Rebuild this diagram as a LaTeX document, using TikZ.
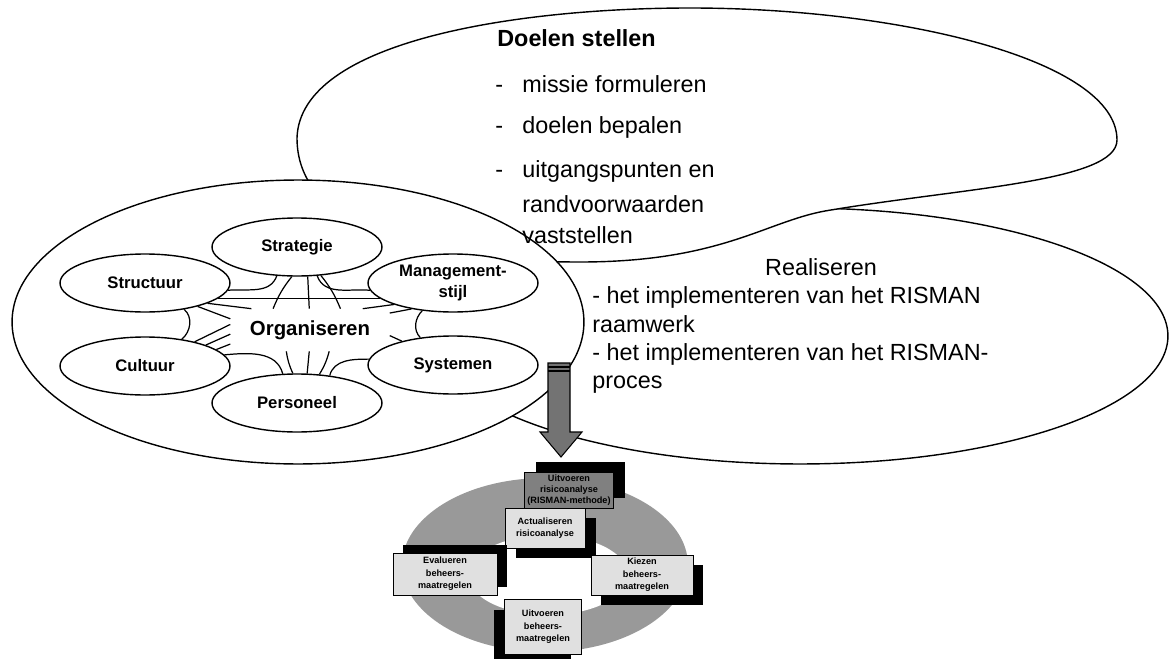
\documentclass[tikz,border=0pt]{standalone}
\usepackage{fontspec}
\setmainfont{Liberation Sans}
\usetikzlibrary{shapes.geometric,shadows,positioning}

\begin{document}
\begin{tikzpicture}
        [x=0.02cm, y=-0.02cm,
        bigell/.style={ellipse, draw, fill=white, line width=0.8pt, inner sep=0pt},
        smallell/.style={ellipse, draw, fill=white, line width=0.8pt, inner sep=0pt,
            minimum width=3.4cm, minimum height=1.16cm, align=center,
            font=\fontsize{9.5}{12.5}\selectfont\bfseries},
        txt/.style={anchor=base west, inner sep=0pt, font=\fontsize{13.3}{16}\selectfont},
        link/.style={draw, line width=0.7pt},
        stap/.style={rectangle, draw, line width=0.5pt, fill=black!12, inner sep=0pt,
            align=center, font=\fontsize{5.2}{7.2}\selectfont\bfseries},
        schaduw/.style n args={2}{drop shadow={shadow xshift=#1, shadow yshift=#2,
            fill=black, opacity=1}}
        ]
        \useasboundingbox (0,0) rectangle (1170,659);

        \node [bigell, minimum width=14.72cm, minimum height=5.12cm] (real) at (800,336) {};
        \draw [fill=white, line width=0.8pt] (297,138) .. controls (300,40) and (520,8) .. (690,8)
            .. controls (900,8) and (1117,60) .. (1117,140)
            .. controls (1117,182) and (960,188) .. (825,211)
            .. controls (765,222) and (720,262) .. (580,262)
            .. controls (400,262) and (297,220) .. (297,138) -- cycle;
        \node [bigell, minimum width=11.44cm, minimum height=5.68cm] (orgell) at (298,322) {};

        \node [txt, font=\fontsize{13.3}{16}\selectfont\bfseries] (dtitel) at (497,47) {Doelen stellen};
        \node [txt] (dash1) at (495,92) {-};
        \node [txt] (d1) at (522,92) {missie formuleren};
        \node [txt] (dash2) at (495,133) {-};
        \node [txt] (d2) at (522,133) {doelen bepalen};
        \node [txt] (dash3) at (495,177) {-};
        \node [txt] (d3) at (522,177) {uitgangspunten en};
        \node [txt] (d4) at (522,212) {randvoorwaarden};
        \node [txt] (d5) at (522,243) {vaststellen};

        \node [txt, anchor=base] (rtitel) at (821,275) {Realiseren};
        \node [txt] (r1) at (592,303) {- het implementeren van het RISMAN};
        \node [txt] (r2) at (592,332) {raamwerk};
        \node [txt] (r3) at (592,360) {- het implementeren van het RISMAN-};
        \node [txt] (r4) at (592,388) {proces};

        \node [smallell] (strat) at (297,247) {Strategie};
        \node [smallell] (struc) at (145,283) {Structuur};
        \node [smallell] (mgmt) at (453,283) {Management-\\stijl};
        \node [smallell] (cult) at (145,366) {Cultuur};
        \node [smallell] (syst) at (453,365) {Systemen};
        \node [smallell] (pers) at (297,403) {Personeel};
        \node [font=\fontsize{11.6}{14}\selectfont\bfseries, inner xsep=11pt, inner ysep=6.5pt]
            (org) at (310,330) {Organiseren};

        \draw [link] (strat.235) to[out=250,in=5] (struc.355);
        \draw [link] (strat.305) to[out=290,in=175] (mgmt.185);
        \draw [link] (strat.260) to[bend right=8] (org.150);
        \draw [link] (strat.290) -- (org.92);
        \draw [link] (strat.310) to[bend left=8] (org.35);
        \draw [link] (struc.348) -- (mgmt.192);
        \draw [link] (struc.342) -- (org.160);
        \draw [link] (struc.336) -- (org.172);
        \draw [link] (struc.326) to[out=-40,in=40] (cult.36);
        \draw [link] (cult.26) -- (org.176);
        \draw [link] (cult.19) -- (org.183);
        \draw [link] (cult.13) -- (org.190);
        \draw [link] (cult.8) to[out=5,in=105] (pers.116);
        \draw [link] (pers.98) to[bend left=8] (org.222);
        \draw [link] (pers.71) -- (org.268);
        \draw [link] (pers.52) to[bend right=8] (org.312);
        \draw [link] (pers.40) to[out=75,in=180] (syst.176);
        \draw [link] (mgmt.200) -- (org.22);
        \draw [link] (mgmt.212) -- (org.12);
        \draw [link] (mgmt.222) to[out=225,in=135] (syst.140);
        \draw [link] (org.356) -- (syst.155);

        \draw [fill=black!55, line width=0.6pt] (548,363) -- (570,363) -- (570,432) -- (582,432)
            -- (561,457) -- (540,432) -- (548,432) -- cycle;
        \draw [line width=0.6pt] (548,367) -- (570,367);
        \draw [line width=0.6pt] (548,371) -- (570,371);

        \node [ellipse, fill=black!40, minimum width=5.72cm, minimum height=3.48cm] (ring) at (545,565) {};
        \node [ellipse, fill=white, minimum width=3.2cm, minimum height=1.6cm] (gat) at (548,575) {};

        \node [stap, fill=black!50, minimum width=1.78cm, minimum height=0.72cm,
            schaduw={6.5pt}{5.5pt}, font=\fontsize{5.2}{6.4}\selectfont\bfseries]
            (uitrisico) at (569,490) {Uitvoeren\\risicoanalyse\\(RISMAN-methode)};
        \node [stap, minimum width=1.6cm, minimum height=0.8cm, schaduw={6pt}{-5.7pt}]
            (actual) at (545,528) {Actualiseren\\risicoanalyse};
        \node [stap, minimum width=2.08cm, minimum height=0.84cm, schaduw={5.7pt}{4.5pt}]
            (evalu) at (445,574) {Evalueren\\beheers-\\maatregelen};
        \node [stap, minimum width=2.04cm, minimum height=0.8cm, schaduw={5.7pt}{-5.7pt}]
            (kiezen) at (642,575) {Kiezen\\beheers-\\maatregelen};
        \node [stap, minimum width=1.54cm, minimum height=1.1cm, schaduw={-5.7pt}{-5.7pt}]
            (uitbeh) at (543,627) {Uitvoeren\\beheers-\\maatregelen};
\end{tikzpicture}
\end{document}
